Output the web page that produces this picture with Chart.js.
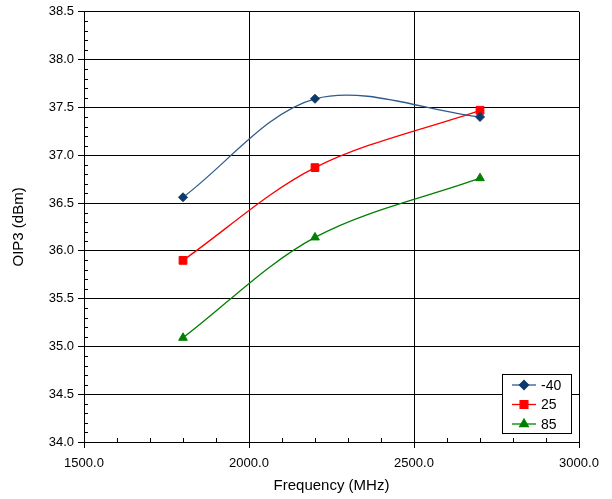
<!DOCTYPE html>
<html>
<head>
<meta charset="utf-8">
<script src="https://cdn.jsdelivr.net/npm/chart.js@4"></script>
<style>
    html, body { margin: 0; padding: 0; background: #fff; }
    #wrap { width: 612px; height: 499px; position: relative; }
</style>
</head>
<body>
<div id="wrap"><canvas id="chart-oip3"></canvas></div>
<script>
// ── DATA ──
const frequencies = [1800, 2200, 2700];
const seriesLabels = ['-40', '25', '85'];
const oip3Cold = [36.56, 37.59, 37.40];
const oip3Room = [35.90, 36.87, 37.47];
const oip3Hot  = [35.09, 36.14, 36.76];

const FONT = 'Liberation Sans, Arial, sans-serif';

function toPoints(values) {
    return frequencies.map((f, i) => ({ x: f, y: values[i] }));
}

// minor tick marks inside the plot
const minorTicks = {
    id: 'minorTicks',
    afterDraw(chart) {
        const { ctx, chartArea, scales } = chart;
        const x = scales.x, y = scales.y;
        ctx.save();
        ctx.strokeStyle = '#000';
        ctx.lineWidth = 1;
        ctx.beginPath();
        for (let v = 1600; v < 3000; v += 100) {
            if (v % 500 === 0) continue;
            const px = Math.round(x.getPixelForValue(v)) + 0.5;
            ctx.moveTo(px, chartArea.bottom);
            ctx.lineTo(px, chartArea.bottom - 4);
        }
        for (let i = 1; i < 45; i++) {
            if (i % 5 === 0) continue;
            const py = Math.round(y.getPixelForValue(34 + i * 0.1)) + 0.5;
            ctx.moveTo(chartArea.left, py);
            ctx.lineTo(chartArea.left + 4, py);
        }
        ctx.stroke();
        ctx.restore();
    }
};

// legend box in the lower right corner of the plot
const legendBox = {
    id: 'legendBox',
    afterDraw(chart) {
        const { ctx, chartArea } = chart;
        const w = 69, h = 59;
        const left = chartArea.right - 77, top = chartArea.bottom - 68;
        ctx.save();
        ctx.fillStyle = '#fff';
        ctx.fillRect(left, top, w, h);
        ctx.strokeStyle = '#000';
        ctx.lineWidth = 1;
        ctx.strokeRect(left + 0.5, top + 0.5, w, h);
        ctx.font = '14px ' + FONT;
        ctx.textBaseline = 'middle';
        chart.data.datasets.forEach((ds, i) => {
            const cy = top + 11 + i * 19.5;
            ctx.strokeStyle = ds.borderColor;
            ctx.lineWidth = 1.3;
            ctx.beginPath();
            ctx.moveTo(left + 10, cy);
            ctx.lineTo(left + 34, cy);
            ctx.stroke();
            ctx.fillStyle = ds.pointBackgroundColor;
            ctx.strokeStyle = ds.pointBorderColor;
            Chart.helpers.drawPoint(ctx, {
                pointStyle: ds.pointStyle, radius: ds.pointRadius, borderWidth: 1
            }, left + 22, cy);
            ctx.fillStyle = '#000';
            ctx.fillText(ds.label, left + 39, cy + 1);
        });
        ctx.restore();
    }
};

function makeDataset(label, values, line, marker, style, radius) {
    return {
        label: label,
        data: toPoints(values),
        showLine: true,
        borderColor: line,
        borderWidth: 1.3,
        backgroundColor: marker,
        pointBackgroundColor: marker,
        pointBorderColor: marker,
        pointStyle: style,
        pointRadius: radius,
        pointBorderWidth: 1,
        tension: 0.33,
        fill: false
    };
}

new Chart(document.getElementById('chart-oip3').getContext('2d'), {
    type: 'scatter',
    data: {
        datasets: [
            makeDataset(seriesLabels[0], oip3Cold, '#2f5b8c', '#0b3a6e', 'rectRot', 4.5),
            makeDataset(seriesLabels[1], oip3Room, '#ff0000', '#ff0000', 'rect', 5.5),
            makeDataset(seriesLabels[2], oip3Hot,  '#008000', '#008000', 'triangle', 5)
        ]
    },
    options: {
        responsive: true,
        maintainAspectRatio: false,
        animation: false,
        layout: { padding: { top: 11, right: 33, left: 6, bottom: 0 } },
        scales: {
            x: {
                type: 'linear',
                min: 1500, max: 3000,
                afterFit: s => { s.height = 57; },
                title: {
                    display: true, text: 'Frequency (MHz)', color: '#000',
                    font: { family: FONT, size: 15 }, padding: { top: 2 }
                },
                ticks: {
                    stepSize: 500, color: '#000', padding: 8,
                    font: { family: FONT, size: 13 },
                    callback: v => v.toFixed(1)
                },
                grid: { color: '#000', lineWidth: 1, tickLength: 6 },
                border: { color: '#000', width: 1 }
            },
            y: {
                type: 'linear',
                min: 34, max: 38.5,
                afterFit: s => { s.width = 78; },
                title: {
                    display: true, text: 'OIP3 (dBm)', color: '#000',
                    font: { family: FONT, size: 15 }, padding: { bottom: 4 }
                },
                ticks: {
                    stepSize: 0.5, color: '#000', padding: 4,
                    font: { family: FONT, size: 13 },
                    callback: v => v.toFixed(1)
                },
                grid: { color: '#000', lineWidth: 1, tickLength: 6 },
                border: { color: '#000', width: 1 }
            }
        },
        plugins: {
            legend: { display: false },
            tooltip: { enabled: false }
        }
    },
    plugins: [minorTicks, legendBox]
});
</script>
</body>
</html>
